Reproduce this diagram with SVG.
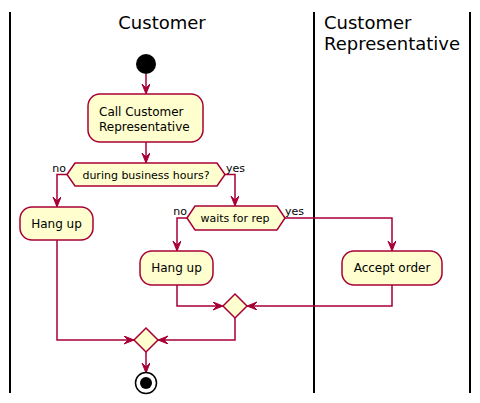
<svg xmlns="http://www.w3.org/2000/svg" width="480" height="403" viewBox="0 0 480 403">
<style>
.lane{stroke:#000;stroke-width:2;fill:none}
.title{font-family:"DejaVu Sans",sans-serif;font-size:18px;fill:#000}
.act{fill:#FEFECE;stroke:#A80036;stroke-width:1.5}
.txt{font-family:"DejaVu Sans",sans-serif;font-size:12px;fill:#000}
.small{font-family:"DejaVu Sans",sans-serif;font-size:11px;fill:#000}
.edge{fill:none;stroke:#A80036;stroke-width:1.5;marker-end:url(#arr)}
</style>
<defs>
<marker id="arr" markerUnits="userSpaceOnUse" markerWidth="11" markerHeight="9" refX="10" refY="4" orient="auto">
<path d="M0,0 L10,4 L0,8 L4,4 z" fill="#A80036" stroke="#A80036" stroke-width="1"/>
</marker>
</defs>
<g id="lanes">
<line class="lane" x1="10" y1="12" x2="10" y2="393"/>
<line class="lane" x1="314" y1="12" x2="314" y2="393"/>
<line class="lane" x1="470" y1="12" x2="470" y2="393"/>
<text class="title" x="162" y="29" text-anchor="middle">Customer</text>
<text class="title" x="324" y="29">Customer</text>
<text class="title" x="324" y="50">Representative</text>
</g>
<g id="connectors">
<line class="edge" x1="146" y1="74" x2="146" y2="94"/>
<line class="edge" x1="146" y1="142" x2="146" y2="163"/>
<polyline class="edge" points="67,174.5 57,174.5 57,207"/>
<polyline class="edge" points="225,174.5 235,174.5 235,206"/>
<polyline class="edge" points="187,218 177,218 177,251"/>
<polyline class="edge" points="285,218 392,218 392,251"/>
<polyline class="edge" points="177,285 177,306 223,306"/>
<polyline class="edge" points="392,285 392,306 247,306"/>
<polyline class="edge" points="235,318 235,340 158,340"/>
<polyline class="edge" points="57,240 57,340 134,340"/>
<line class="edge" x1="146" y1="352" x2="146" y2="373"/>
<text class="small" x="66" y="172" text-anchor="end">no</text>
<text class="small" x="226" y="172">yes</text>
<text class="small" x="187" y="215" text-anchor="end">no</text>
<text class="small" x="285" y="215">yes</text>
</g>
<g id="start"><circle cx="146" cy="64" r="10" fill="#000"/></g>
<g id="call">
<rect class="act" x="88" y="94" width="115" height="48" rx="12"/>
<text class="txt" x="99" y="116">Call Customer</text>
<text class="txt" x="99" y="131">Representative</text>
</g>
<g id="business">
<polygon class="act" points="67,174.5 75,163 217,163 225,174.5 217,186 75,186"/>
<text class="small" x="146" y="178.5" text-anchor="middle">during business hours?</text>
</g>
<g id="hangup1">
<rect class="act" x="20" y="207" width="73" height="33" rx="12"/>
<text class="txt" x="56.5" y="228" text-anchor="middle">Hang up</text>
</g>
<g id="waits">
<polygon class="act" points="187,218 195,206 277,206 285,218 277,230 195,230"/>
<text class="small" x="235" y="222" text-anchor="middle">waits for rep</text>
</g>
<g id="hangup2">
<rect class="act" x="140" y="251" width="73" height="34" rx="12"/>
<text class="txt" x="176.5" y="272" text-anchor="middle">Hang up</text>
</g>
<g id="accept">
<rect class="act" x="342" y="251" width="100" height="34" rx="12"/>
<text class="txt" x="392" y="272" text-anchor="middle">Accept order</text>
</g>
<g id="merge1"><polygon class="act" points="235,294 247,306 235,318 223,306"/></g>
<g id="merge2"><polygon class="act" points="146,328 158,340 146,352 134,340"/></g>
<g id="end">
<circle cx="146" cy="383" r="10.5" fill="none" stroke="#000" stroke-width="1.5"/>
<circle cx="146" cy="383" r="6" fill="#000"/>
</g>
</svg>
